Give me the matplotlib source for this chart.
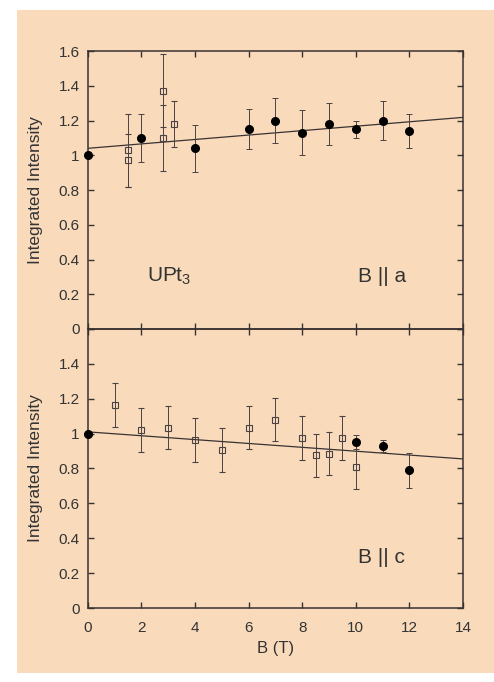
import matplotlib
matplotlib.use("Agg")
import matplotlib.pyplot as plt
import numpy as np

# panel B || a
a_fill_x = [0, 2, 4, 6, 7, 8, 9, 10, 11, 12]
a_fill_y = [1.00, 1.10, 1.04, 1.15, 1.20, 1.13, 1.18, 1.15, 1.20, 1.14]
a_fill_err = [0.0, 0.14, 0.135, 0.115, 0.13, 0.13, 0.12, 0.05, 0.11, 0.10]
a_open_x = [1.5, 1.5, 2.8, 2.8, 3.2]
a_open_y = [1.03, 0.97, 1.37, 1.10, 1.18]
a_open_err = [0.21, 0.15, 0.21, 0.19, 0.13]
a_fit = [1.04, 1.218]   # fit values at B=0 and B=14

# panel B || c
c_fill_x = [0, 10, 11, 12]
c_fill_y = [1.00, 0.95, 0.93, 0.79]
c_fill_err = [0.0, 0.04, 0.035, 0.10]
c_open_x = [1, 2, 3, 4, 5, 6, 7, 8, 8.5, 9, 9.5, 10]
c_open_y = [1.165, 1.02, 1.035, 0.965, 0.905, 1.035, 1.08, 0.975, 0.875, 0.885, 0.975, 0.81]
c_open_err = [0.125, 0.125, 0.125, 0.125, 0.125, 0.125, 0.125, 0.125, 0.125, 0.125, 0.125, 0.125]
c_fit = [1.01, 0.855]

fit_x = [0, 14]
xticks = [0, 2, 4, 6, 8, 10, 12, 14]
yticks = [0, 0.2, 0.4, 0.6, 0.8, 1, 1.2, 1.4, 1.6]
yticklabels = ["0", "0.2", "0.4", "0.6", "0.8", "1", "1.2", "1.4", "1.6"]

plt.rcParams['font.family'] = ['Liberation Sans', 'DejaVu Sans']
plt.rcParams['mathtext.fontset'] = 'custom'
plt.rcParams['mathtext.rm'] = 'Liberation Sans'
plt.rcParams['mathtext.it'] = 'Liberation Sans'
ink = "#3a3232"
bg = "#f9dbbc"

fig = plt.figure(figsize=(4.94, 6.82), dpi=100, facecolor="white")
fig.patches.append(plt.Rectangle((17 / 494, 9 / 682), 1 - 17 / 494, 1 - 19 / 682,
                                 transform=fig.transFigure, facecolor=bg,
                                 edgecolor="none", zorder=-10))

ax1 = fig.add_axes([0.178, 0.5176, 0.759, 0.4076])
ax2 = fig.add_axes([0.178, 0.1085, 0.759, 0.4091], sharex=ax1)


def draw(ax, fx, fy, fe, ox, oy, oe, fit):
    ax.set_facecolor("none")
    ax.plot(fit_x, fit, color=ink, lw=0.9, zorder=2)
    ax.errorbar(ox, oy, yerr=oe, fmt="s", ms=5, mfc="none", mec="#4a4242",
                mew=0.8, ecolor="#4a4242", elinewidth=0.7, capsize=2.5,
                capthick=0.7, zorder=3)
    ax.errorbar(fx, fy, yerr=fe, fmt="o", ms=5.5, mfc="black", mec="black",
                ecolor="#4a4242", elinewidth=0.7, capsize=2.5, capthick=0.7,
                zorder=4, clip_on=False)
    ax.set_xlim(0, 14)
    ax.set_ylim(0, 1.6)
    ax.set_yticks(yticks)
    ax.set_xticks(xticks)
    ax.tick_params(direction="in", top=True, right=True, length=4, width=1,
                   color=ink, labelcolor="#333333", labelsize=11)
    ax.tick_params(axis="y", pad=6)
    ax.tick_params(axis="x", pad=9)
    for s in ax.spines.values():
        s.set_color(ink)
        s.set_linewidth(1.1)
    ax.set_ylabel("Integrated Intensity", fontsize=12.5, color="#333333",
                  labelpad=11)


draw(ax1, a_fill_x, a_fill_y, a_fill_err, a_open_x, a_open_y, a_open_err, a_fit)
draw(ax2, c_fill_x, c_fill_y, c_fill_err, c_open_x, c_open_y, c_open_err, c_fit)

ax1.set_yticklabels(yticklabels)
ax2.set_yticklabels(yticklabels[:-1] + [""])
plt.setp(ax1.get_xticklabels(), visible=False)
ax2.set_xlabel("B (T)", fontsize=12, color="#333333", labelpad=5)

ax1.text(2.2, 0.27, "UPt$_{3}$", fontsize=15, color="#333333", ha="left",
         va="baseline")
ax1.text(10.1, 0.27, "B || a", fontsize=15, color="#333333", ha="left",
         va="baseline")
ax2.text(10.1, 0.26, "B || c", fontsize=15, color="#333333", ha="left",
         va="baseline")

fig.savefig("out.png", dpi=100, facecolor="white")
